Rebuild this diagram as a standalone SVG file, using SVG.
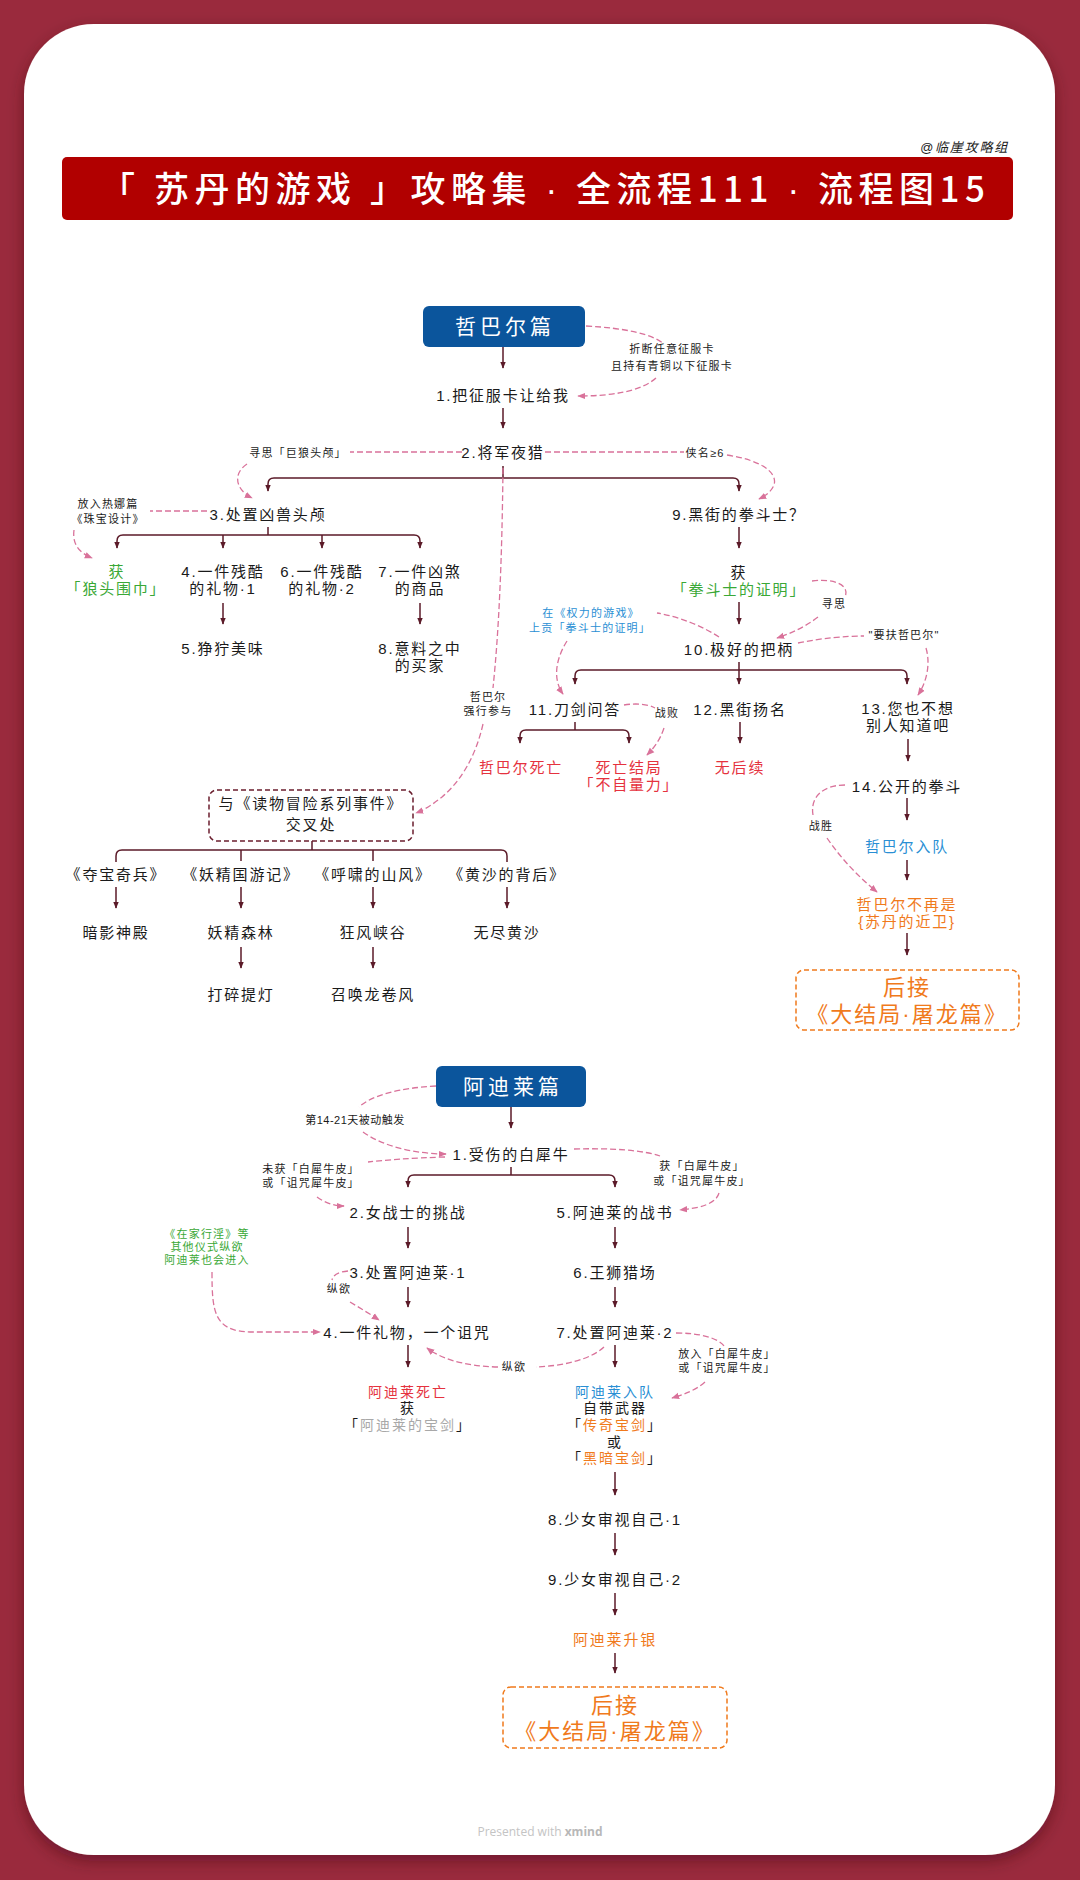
<svg xmlns="http://www.w3.org/2000/svg" width="1080" height="1880" viewBox="0 0 1080 1880">
<defs>
<style>
.t{font-family:"Liberation Sans","Noto Sans CJK SC",sans-serif;font-size:15px;letter-spacing:1.8px;text-anchor:middle;fill:#1a1a1a}
.s{font-size:11px;letter-spacing:1.2px}
.k{font-size:14px;letter-spacing:2px}
.g{fill:#3aa836}.r{fill:#e5323e}.b{fill:#2a8fd4}.o{fill:#f07a1c}.gr{fill:#a8a8a8}
.w{fill:#ffffff;font-size:21px;letter-spacing:4px}
.big{font-size:22px;letter-spacing:2px;fill:#f07a1c}
.c{fill:none;stroke:#5b1a28;stroke-width:1.5}
.d{fill:none;stroke:#d9729a;stroke-width:1.3;stroke-dasharray:6 3}
.head{fill:#0b559c}
.ob{fill:none;stroke:#f07a1c;stroke-width:1.5;stroke-dasharray:5 3}
.mb{fill:none;stroke:#6b1e2e;stroke-width:1.5;stroke-dasharray:5 3}
</style>
<marker id="ah" viewBox="0 0 10 10" refX="9" refY="5" markerWidth="7" markerHeight="7" orient="auto-start-reverse" markerUnits="userSpaceOnUse"><path d="M0,1 L10,5 L0,9 z" fill="#5b1a28"/></marker>
<marker id="ap" viewBox="0 0 10 10" refX="9" refY="5" markerWidth="8" markerHeight="8" orient="auto" markerUnits="userSpaceOnUse"><path d="M0,1 L10,5 L0,9 z" fill="#d9729a"/></marker>
<filter id="sh" x="-5%" y="-5%" width="110%" height="110%"><feDropShadow dx="0" dy="6" stdDeviation="8" flood-color="#3a0a14" flood-opacity="0.45"/></filter>
</defs>
<rect x="0" y="0" width="1080" height="1880" fill="#9a2a3d"/>
<rect x="24" y="24" width="1031" height="1831" rx="70" fill="#ffffff" filter="url(#sh)"/>

<g id="header">
<text x="1009" y="152" class="t" style="text-anchor:end;font-size:13px;font-style:italic">@临崖攻略组</text>
<rect x="62" y="157" width="951" height="63" rx="5" fill="#b10000"/>
<text x="100" y="202" textLength="885" lengthAdjust="spacing" style="font-family:'Noto Sans CJK SC',sans-serif;font-size:35px;font-weight:500;fill:#ffffff">「 苏丹的游戏 」攻略集 <tspan style="font-family:'Liberation Sans',sans-serif">·</tspan> 全流程111 <tspan style="font-family:'Liberation Sans',sans-serif">·</tspan> 流程图15</text>
</g>

<g id="connectors">
<path class="c" marker-end="url(#ah)" d="M503,347 V368"/>
<path class="c" marker-end="url(#ah)" d="M503,408 V428"/>
<path class="c" d="M503,466 V478"/>
<path class="c" marker-start="url(#ah)" marker-end="url(#ah)" d="M268,491 V484 Q268,478 274,478 H733 Q739,478 739,484 V491"/>
<path class="c" d="M268,527 V535"/>
<path class="c" marker-start="url(#ah)" marker-end="url(#ah)" d="M117,548 V541 Q117,535 123,535 H414 Q420,535 420,541 V548"/>
<path class="c" marker-end="url(#ah)" d="M223,535 V548"/>
<path class="c" marker-end="url(#ah)" d="M322,535 V548"/>
<path class="c" marker-end="url(#ah)" d="M223,603 V624"/>
<path class="c" marker-end="url(#ah)" d="M420,603 V624"/>
<path class="c" marker-end="url(#ah)" d="M739,527 V548"/>
<path class="c" marker-end="url(#ah)" d="M739,602 V624"/>
<path class="c" d="M739,662 V670"/>
<path class="c" marker-start="url(#ah)" marker-end="url(#ah)" d="M575,684 V676 Q575,670 581,670 H901 Q907,670 907,676 V684"/>
<path class="c" marker-end="url(#ah)" d="M739,670 V684"/>
<path class="c" d="M575,722 V730"/>
<path class="c" marker-start="url(#ah)" marker-end="url(#ah)" d="M520,743 V736 Q520,730 526,730 H623 Q629,730 629,736 V743"/>
<path class="c" marker-end="url(#ah)" d="M740,722 V743"/>
<path class="c" marker-end="url(#ah)" d="M908,739 V761"/>
<path class="c" marker-end="url(#ah)" d="M907,798 V820"/>
<path class="c" marker-end="url(#ah)" d="M907,860 V880"/>
<path class="c" marker-end="url(#ah)" d="M907,933 V955"/>
<path class="c" d="M312,841 V850"/>
<path class="c" d="M116,862 V856 Q116,850 122,850 H501 Q507,850 507,856 V862"/>
<path class="c" d="M241,850 V861"/>
<path class="c" d="M373,850 V861"/>
<path class="c" marker-end="url(#ah)" d="M116,887 V908"/>
<path class="c" marker-end="url(#ah)" d="M241,887 V908"/>
<path class="c" marker-end="url(#ah)" d="M373,887 V908"/>
<path class="c" marker-end="url(#ah)" d="M507,887 V908"/>
<path class="c" marker-end="url(#ah)" d="M241,947 V968"/>
<path class="c" marker-end="url(#ah)" d="M373,947 V968"/>

<path class="c" marker-end="url(#ah)" d="M511,1107 V1128"/>
<path class="c" d="M511,1167 V1175"/>
<path class="c" marker-start="url(#ah)" marker-end="url(#ah)" d="M408,1187 V1181 Q408,1175 414,1175 H609 Q615,1175 615,1181 V1187"/>
<path class="c" marker-end="url(#ah)" d="M408,1227 V1248"/>
<path class="c" marker-end="url(#ah)" d="M615,1227 V1248"/>
<path class="c" marker-end="url(#ah)" d="M408,1287 V1307"/>
<path class="c" marker-end="url(#ah)" d="M615,1287 V1307"/>
<path class="c" marker-end="url(#ah)" d="M408,1345 V1367"/>
<path class="c" marker-end="url(#ah)" d="M615,1345 V1367"/>
<path class="c" marker-end="url(#ah)" d="M615,1472 V1495"/>
<path class="c" marker-end="url(#ah)" d="M615,1533 V1555"/>
<path class="c" marker-end="url(#ah)" d="M615,1593 V1615"/>
<path class="c" marker-end="url(#ah)" d="M615,1653 V1673"/>

<path class="d" d="M586,326 C625,328 652,334 664,344"/>
<path class="d" marker-end="url(#ap)" d="M656,378 C640,392 610,396 578,396"/>
<path class="d" d="M462,452 L350,452"/>
<path class="d" marker-end="url(#ap)" d="M247,464 C232,474 236,490 252,498"/>
<path class="d" d="M545,452 L684,452"/>
<path class="d" marker-end="url(#ap)" d="M727,455 C760,460 778,472 774,485 C771,492 765,496 759,499"/>
<path class="d" d="M207,511 L150,511"/>
<path class="d" marker-end="url(#ap)" d="M74,530 C72,545 80,553 92,558"/>
<path class="d" d="M503,468 C502,560 499,630 493,688"/>
<path class="d" marker-end="url(#ap)" d="M483,724 C476,755 462,780 442,797 C432,805 424,810 416,813"/>
<path class="d" d="M719,637 C702,626 680,617 657,613"/>
<path class="d" marker-end="url(#ap)" d="M567,641 C555,660 553,680 563,694"/>
<path class="d" d="M812,581 C836,578 850,586 845,597"/>
<path class="d" marker-end="url(#ap)" d="M818,617 C805,627 792,633 777,638"/>
<path class="d" d="M798,643 C822,638 846,636 864,636"/>
<path class="d" marker-end="url(#ap)" d="M926,648 C931,665 926,683 918,695"/>
<path class="d" d="M624,705 C636,703 648,704 655,708"/>
<path class="d" marker-end="url(#ap)" d="M664,728 C660,740 654,748 647,755"/>
<path class="d" d="M845,785 C822,785 810,798 813,815"/>
<path class="d" marker-end="url(#ap)" d="M827,838 C842,860 860,878 877,892"/>

<path class="d" d="M436,1086 C400,1088 372,1095 359,1107"/>
<path class="d" marker-end="url(#ap)" d="M363,1132 C385,1148 420,1154 446,1154"/>
<path class="d" d="M445,1157 C412,1158 385,1160 368,1162"/>
<path class="d" marker-end="url(#ap)" d="M317,1197 C325,1203 335,1206 344,1206"/>
<path class="d" d="M574,1149 C612,1148 642,1150 660,1156"/>
<path class="d" marker-end="url(#ap)" d="M719,1193 C716,1204 700,1208 680,1210"/>
<path class="d" marker-end="url(#ap)" d="M212,1272 C212,1312 214,1331 250,1332 L320,1332"/>
<path class="d" d="M348,1271 C338,1272 333,1275 332,1280"/>
<path class="d" marker-end="url(#ap)" d="M350,1302 C360,1308 370,1314 379,1320"/>
<path class="d" d="M604,1347 C590,1360 562,1366 536,1367"/>
<path class="d" marker-end="url(#ap)" d="M498,1367 C462,1366 440,1358 427,1348"/>
<path class="d" d="M676,1333 C700,1333 718,1338 724,1346"/>
<path class="d" marker-end="url(#ap)" d="M705,1382 C696,1390 685,1394 672,1398"/>
</g>

<g id="n-zbr"><rect class="head" x="423" y="306" width="162" height="41" rx="6"/><text class="t w" x="505" y="334">哲巴尔篇</text></g>
<g id="n-z1"><text class="t" x="503" y="401">1.把征服卡让给我</text></g>
<g id="l-z1"><text class="t s" x="672" y="353">折断任意征服卡</text><text class="t s" x="672" y="370">且持有青铜以下征服卡</text></g>
<g id="n-z2"><text class="t" x="503" y="458">2.将军夜猎</text></g>
<g id="l-z2a"><text class="t s" x="298" y="457">寻思「巨狼头颅」</text></g>
<g id="l-z2b"><text class="t s" x="705" y="457">侠名≥6</text></g>
<g id="n-z3"><text class="t" x="268" y="520">3.处置凶兽头颅</text></g>
<g id="l-z3"><text class="t s" x="108" y="508">放入热娜篇</text><text class="t s" x="108" y="523">《珠宝设计》</text></g>
<g id="n-wolf"><text class="t g" x="117" y="577">获</text><text class="t g" x="116" y="594">「狼头围巾」</text></g>
<g id="n-z4"><text class="t" x="223" y="577">4.一件残酷</text><text class="t" x="223" y="594">的礼物·1</text></g>
<g id="n-z6"><text class="t" x="322" y="577">6.一件残酷</text><text class="t" x="322" y="594">的礼物·2</text></g>
<g id="n-z7"><text class="t" x="420" y="577">7.一件凶煞</text><text class="t" x="420" y="594">的商品</text></g>
<g id="n-z5"><text class="t" x="223" y="654">5.狰狞美味</text></g>
<g id="n-z8"><text class="t" x="420" y="654">8.意料之中</text><text class="t" x="420" y="671">的买家</text></g>

<g id="n-z9"><text class="t" x="739" y="520">9.黑街的拳斗士？</text></g>
<g id="n-proof"><text class="t" x="739" y="578">获</text><text class="t g" x="739" y="595">「拳斗士的证明」</text></g>
<g id="l-xs"><text class="t s" x="834" y="608">寻思</text></g>
<g id="n-z10"><text class="t" x="739" y="655">10.极好的把柄</text></g>
<g id="l-power"><text class="t s b" x="591" y="617">在《权力的游戏》</text><text class="t s b" x="590" y="632">上贡「拳斗士的证明」</text></g>
<g id="l-fu"><text class="t s" x="904" y="639">"要扶哲巴尔"</text></g>
<g id="n-z11"><text class="t" x="575" y="715">11.刀剑问答</text></g>
<g id="l-force"><text class="t s" x="488" y="701">哲巴尔</text><text class="t s" x="488" y="715">强行参与</text></g>
<g id="l-lose"><text class="t s" x="667" y="717">战败</text></g>
<g id="n-z12"><text class="t" x="740" y="715">12.黑街扬名</text></g>
<g id="n-z13"><text class="t" x="908" y="714">13.您也不想</text><text class="t" x="908" y="731">别人知道吧</text></g>
<g id="n-dead"><text class="t r" x="521" y="773">哲巴尔死亡</text></g>
<g id="n-end"><text class="t r" x="629" y="773">死亡结局</text><text class="t r" x="629" y="790">「不自量力」</text></g>
<g id="n-none"><text class="t r" x="740" y="773">无后续</text></g>
<g id="n-z14"><text class="t" x="907" y="792">14.公开的拳斗</text></g>
<g id="l-win"><text class="t s" x="821" y="830">战胜</text></g>
<g id="n-join"><text class="t b" x="907" y="852">哲巴尔入队</text></g>
<g id="n-guard"><text class="t o" x="907" y="910">哲巴尔不再是</text><text class="t o" x="907" y="927">{苏丹的近卫}</text></g>
<g id="n-next1"><rect class="ob" x="796" y="970" width="223" height="60" rx="8"/><text class="t big" x="907" y="995">后接</text><text class="t big" x="907" y="1022">《大结局·屠龙篇》</text></g>

<g id="n-cross"><rect class="mb" x="209" y="790" width="204" height="51" rx="8"/><text class="t" x="311" y="809">与《读物冒险系列事件》</text><text class="t" x="311" y="830">交叉处</text></g>
<g id="n-b1"><text class="t" x="116" y="880">《夺宝奇兵》</text></g>
<g id="n-b2"><text class="t" x="241" y="880">《妖精国游记》</text></g>
<g id="n-b3"><text class="t" x="373" y="880">《呼啸的山风》</text></g>
<g id="n-b4"><text class="t" x="507" y="880">《黄沙的背后》</text></g>
<g id="n-p1"><text class="t" x="116" y="938">暗影神殿</text></g>
<g id="n-p2"><text class="t" x="241" y="938">妖精森林</text></g>
<g id="n-p3"><text class="t" x="373" y="938">狂风峡谷</text></g>
<g id="n-p4"><text class="t" x="507" y="938">无尽黄沙</text></g>
<g id="n-p5"><text class="t" x="241" y="1000">打碎提灯</text></g>
<g id="n-p6"><text class="t" x="373" y="1000">召唤龙卷风</text></g>

<g id="n-adl"><rect class="head" x="436" y="1066" width="150" height="41" rx="6"/><text class="t w" x="513" y="1094">阿迪莱篇</text></g>
<g id="l-day"><text class="t s" x="355" y="1124" style="letter-spacing:0.5px">第14-21天被动触发</text></g>
<g id="n-a1"><text class="t" x="511" y="1160">1.受伤的白犀牛</text></g>
<g id="l-a1a"><text class="t s" x="311" y="1173">未获「白犀牛皮」</text><text class="t s" x="311" y="1187">或「诅咒犀牛皮」</text></g>
<g id="l-a1b"><text class="t s" x="702" y="1170">获「白犀牛皮」</text><text class="t s" x="702" y="1185">或「诅咒犀牛皮」</text></g>
<g id="n-a2"><text class="t" x="408" y="1218">2.女战士的挑战</text></g>
<g id="n-a5"><text class="t" x="615" y="1218">5.阿迪莱的战书</text></g>
<g id="l-ritual"><text class="t s g" x="207" y="1238">《在家行淫》等</text><text class="t s g" x="207" y="1251">其他仪式纵欲</text><text class="t s g" x="207" y="1264">阿迪莱也会进入</text></g>
<g id="n-a3"><text class="t" x="408" y="1278">3.处置阿迪莱·1</text></g>
<g id="l-zy1"><text class="t s" x="339" y="1293">纵欲</text></g>
<g id="n-a6"><text class="t" x="615" y="1278">6.王狮猎场</text></g>
<g id="n-a4"><text class="t" x="407" y="1338">4.一件礼物，一个诅咒</text></g>
<g id="n-a7"><text class="t" x="615" y="1338">7.处置阿迪莱·2</text></g>
<g id="l-zy2"><text class="t s" x="514" y="1371">纵欲</text></g>
<g id="l-put"><text class="t s" x="727" y="1358">放入「白犀牛皮」</text><text class="t s" x="727" y="1372">或「诅咒犀牛皮」</text></g>
<g id="n-adead"><text class="t k r" x="408" y="1397">阿迪莱死亡</text><text class="t k" x="408" y="1413">获</text><text class="t k" x="408" y="1430">「<tspan class="gr">阿迪莱的宝剑</tspan>」</text></g>
<g id="n-ajoin"><text class="t k b" x="615" y="1397">阿迪莱入队</text><text class="t k" x="615" y="1413">自带武器</text><text class="t k" x="615" y="1430">「<tspan class="o">传奇宝剑</tspan>」</text><text class="t k" x="615" y="1447">或</text><text class="t k" x="615" y="1463">「<tspan class="o">黑暗宝剑</tspan>」</text></g>
<g id="n-a8"><text class="t" x="615" y="1525">8.少女审视自己·1</text></g>
<g id="n-a9"><text class="t" x="615" y="1585">9.少女审视自己·2</text></g>
<g id="n-silver"><text class="t o" x="615" y="1645">阿迪莱升银</text></g>
<g id="n-next2"><rect class="ob" x="503" y="1687" width="224" height="61" rx="8"/><text class="t big" x="615" y="1713">后接</text><text class="t big" x="615" y="1739">《大结局·屠龙篇》</text></g>

<g id="footer"><text x="540" y="1836" style="font-family:'Open Sans',sans-serif;font-size:12px;fill:#c4c4c4;text-anchor:middle">Presented with <tspan font-weight="bold" fill="#b8b8b8">xmind</tspan></text></g>
</svg>
